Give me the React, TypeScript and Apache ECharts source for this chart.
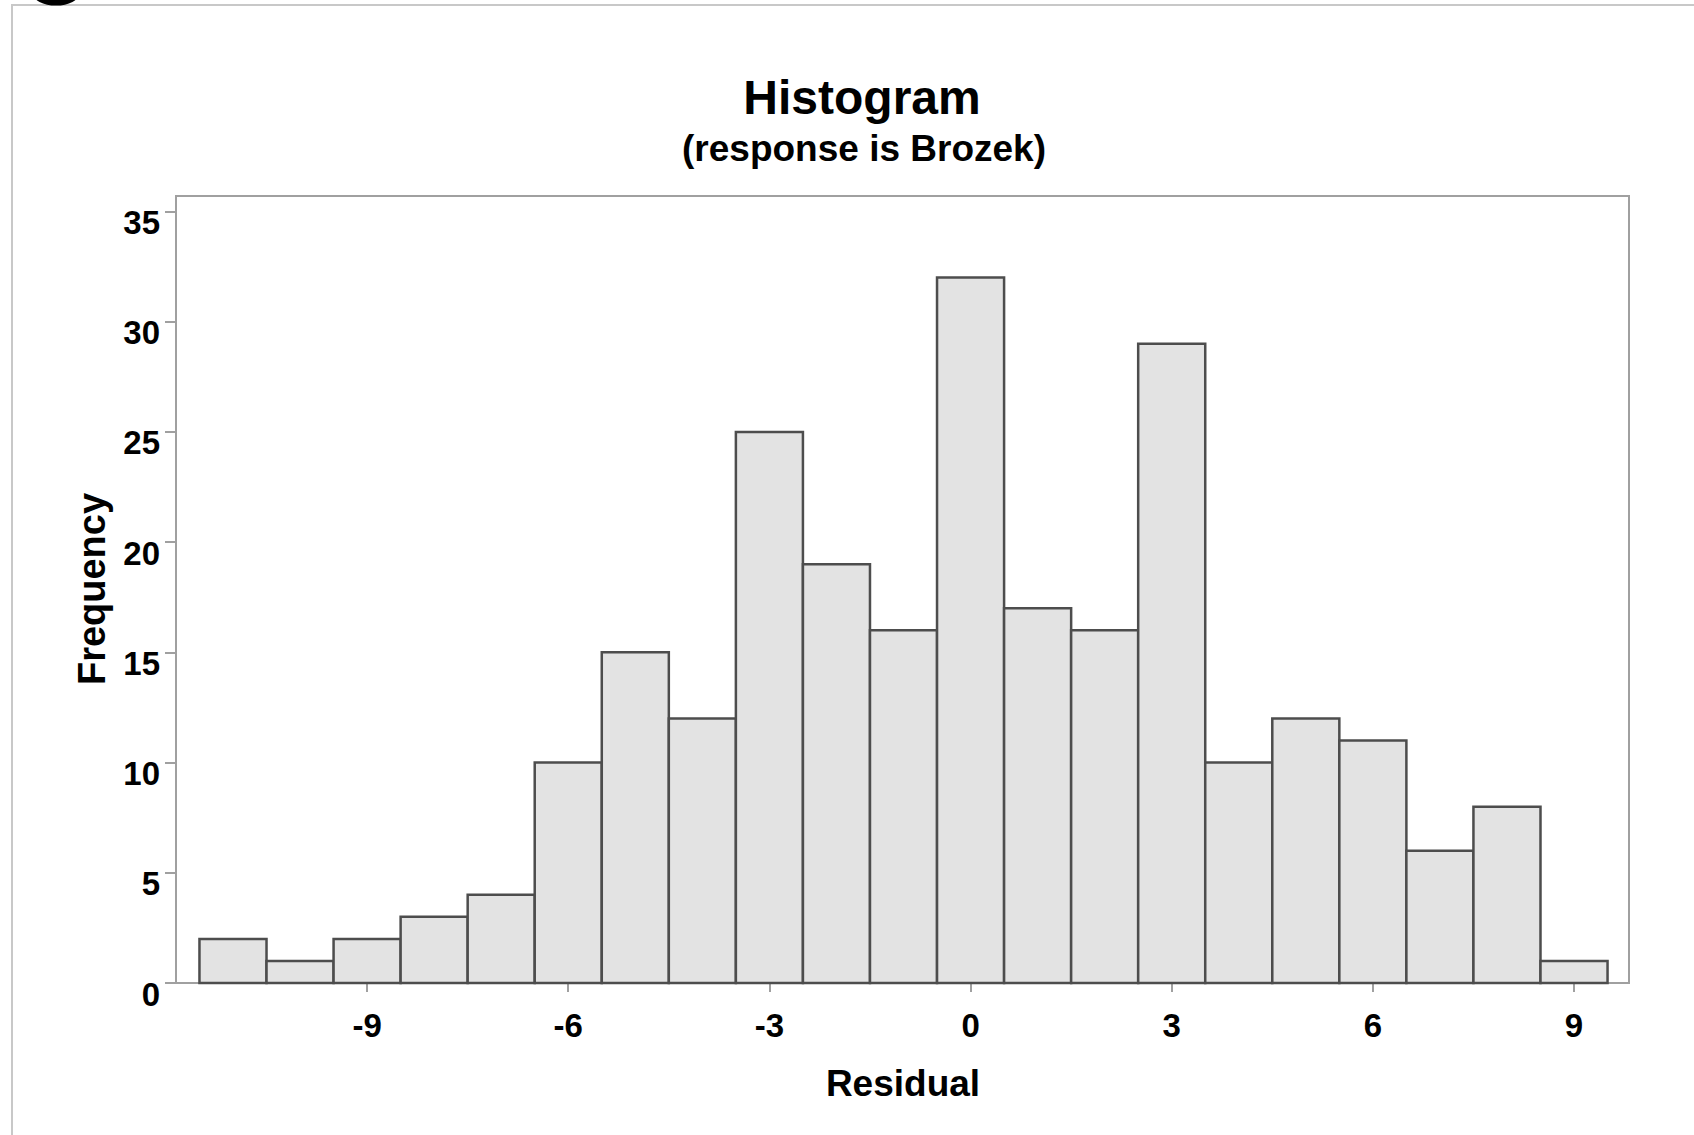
import React, { useEffect, useRef } from "react";
import * as echarts from "echarts";

const binCenters = [-11, -10, -9, -8, -7, -6, -5, -4, -3, -2, -1, 0, 1, 2, 3, 4, 5, 6, 7, 8, 9];
const frequencies = [2, 1, 2, 3, 4, 10, 15, 12, 25, 19, 16, 32, 17, 16, 29, 10, 12, 11, 6, 8, 1];
const binWidth = 1;
const xTicks = [-9, -6, -3, 0, 3, 6, 9];
const yTicks = [0, 5, 10, 15, 20, 25, 30, 35];
const titleText = "Histogram";
const subtitleText = "(response is Brozek)";
const xTitle = "Residual";
const yTitle = "Frequency";

const FONT = "'Liberation Sans', Arial, sans-serif";

export default function App() {
  const ref = useRef<HTMLDivElement>(null);
  useEffect(() => {
    if (!ref.current) return;
    const chart = echarts.init(ref.current, null, { renderer: "svg" });
    const data = binCenters.map((c, i) => [c, frequencies[i]]);
    chart.setOption({
      animation: false,
      backgroundColor: "#ffffff",
      grid: {
        left: 176,
        right: 65,
        top: 196,
        bottom: 152,
        show: true,
        borderColor: "#a0a0a0",
        borderWidth: 2,
        backgroundColor: "transparent",
      },
      xAxis: {
        type: "value",
        min: -11.85,
        max: 9.82,
        splitLine: { show: false },
        axisLine: { show: true, onZero: false, lineStyle: { color: "#a0a0a0", width: 2 } },
        axisTick: {
          show: true,
          customValues: xTicks,
          length: 9,
          lineStyle: { color: "#a0a0a0", width: 2 },
        },
        axisLabel: {
          customValues: xTicks,
          fontFamily: FONT,
          fontWeight: "bold",
          fontSize: 33,
          color: "#000",
          margin: 31,
          verticalAlign: "top",
          lineHeight: 22,
        },
      },
      yAxis: {
        type: "value",
        min: 0,
        max: 35.7,
        splitLine: { show: false },
        axisLine: { show: true, onZero: false, lineStyle: { color: "#a0a0a0", width: 2 } },
        axisTick: {
          show: true,
          customValues: yTicks,
          length: 11,
          lineStyle: { color: "#a0a0a0", width: 2 },
        },
        axisLabel: {
          customValues: yTicks,
          fontFamily: FONT,
          fontWeight: "bold",
          fontSize: 33,
          color: "#000",
          margin: 16,
          verticalAlign: "top",
          lineHeight: 22,
        },
      },
      series: [
        {
          type: "custom",
          data,
          encode: { x: 0, y: 1 },
          renderItem: (params: any, api: any) => {
            const x = api.value(0);
            const y = api.value(1);
            const p0 = api.coord([x - binWidth / 2, y]);
            const p1 = api.coord([x + binWidth / 2, 0]);
            return {
              type: "rect",
              shape: { x: p0[0], y: p0[1], width: p1[0] - p0[0], height: p1[1] - p0[1] },
              style: { fill: "#e3e3e3", stroke: "#4d4d4d", lineWidth: 2.5 },
            };
          },
        },
      ],
      graphic: [
        {
          type: "rect",
          shape: { x: 12, y: 5, width: 1720, height: 1200 },
          style: { fill: "none", stroke: "#c8c8c8", lineWidth: 2 },
          silent: true,
        },
        {
          type: "ellipse",
          shape: { cx: 56, cy: -9, rx: 21, ry: 11 },
          style: { fill: "none", stroke: "#000", lineWidth: 7 },
          silent: true,
        },
        {
          type: "text",
          x: 862,
          y: 97,
          style: {
            text: titleText,
            fontFamily: FONT,
            fontWeight: "bold",
            fontSize: 48,
            fill: "#000",
            textAlign: "center",
            textVerticalAlign: "middle",
          },
        },
        {
          type: "text",
          x: 864,
          y: 148,
          style: {
            text: subtitleText,
            fontFamily: FONT,
            fontWeight: "bold",
            fontSize: 37,
            fill: "#000",
            textAlign: "center",
            textVerticalAlign: "middle",
          },
        },
        {
          type: "text",
          x: 903,
          y: 1083,
          style: {
            text: xTitle,
            fontFamily: FONT,
            fontWeight: "bold",
            fontSize: 37,
            fill: "#000",
            textAlign: "center",
            textVerticalAlign: "middle",
          },
        },
        {
          type: "text",
          x: 92,
          y: 589,
          rotation: Math.PI / 2,
          style: {
            text: yTitle,
            fontFamily: FONT,
            fontWeight: "bold",
            fontSize: 38,
            fill: "#000",
            textAlign: "center",
            textVerticalAlign: "middle",
          },
        },
      ],
    });
    return () => chart.dispose();
  }, []);
  return (
    <div
      ref={ref}
      style={{ position: "fixed", left: 0, top: 0, width: 1694, height: 1135 }}
    />
  );
}
